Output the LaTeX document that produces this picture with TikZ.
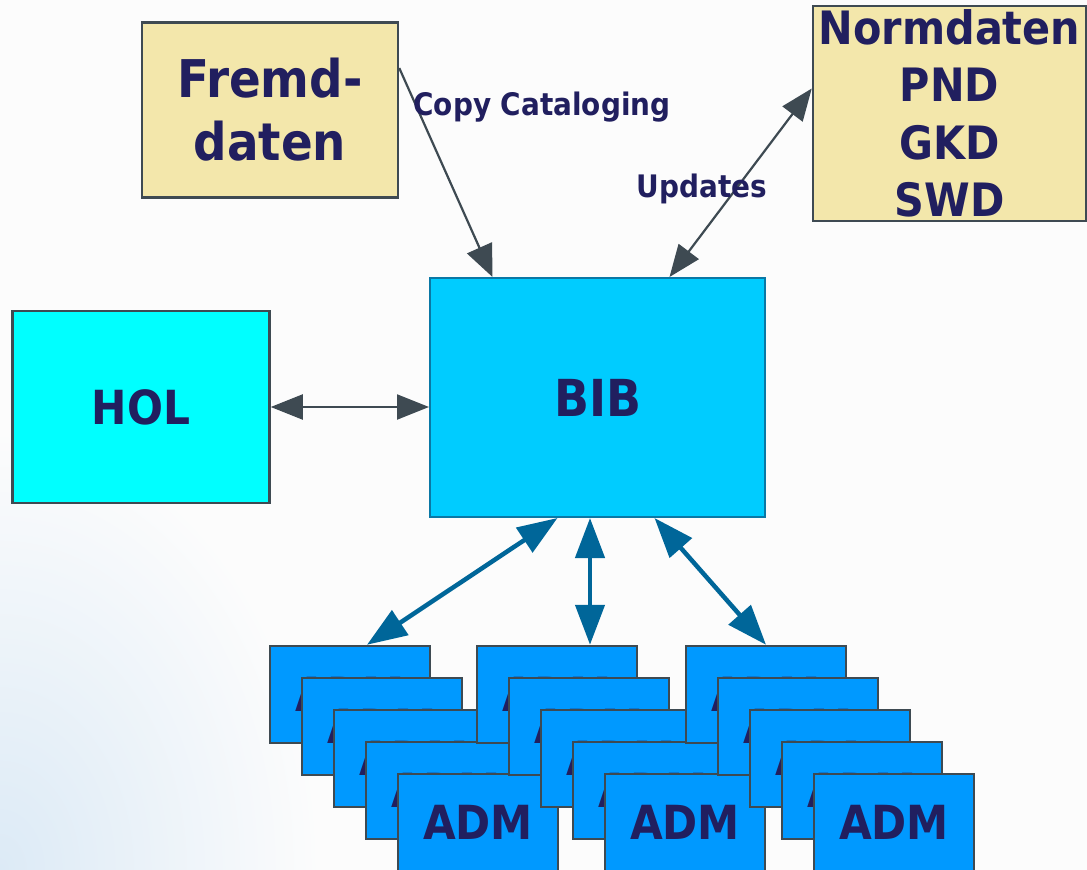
\documentclass[tikz,border=0pt]{standalone}
\usepackage{fontspec}
\setmainfont{DejaVu Sans Condensed}
\usetikzlibrary{arrows.meta}

\definecolor{navy}{RGB}{33,31,95}
\definecolor{slate}{RGB}{62,74,82}
\definecolor{sand}{RGB}{243,231,171}
\definecolor{holcyan}{RGB}{0,255,255}
\definecolor{bibblue}{RGB}{0,204,255}
\definecolor{bibline}{RGB}{10,120,165}
\definecolor{admblue}{RGB}{0,153,255}
\definecolor{linkblue}{RGB}{0,102,153}
\definecolor{bgblue}{RGB}{220,234,246}
\definecolor{paper}{RGB}{252,252,252}

\begin{document}
\begin{tikzpicture}[x=1pt, y=-1pt,
  every node/.style={font=\bfseries, text=navy, inner sep=0pt, align=center},
  yellowbox/.style={draw=slate, line width=2.5pt, fill=sand},
  holbox/.style={draw=slate, line width=2.5pt, fill=holcyan, minimum width=257pt, minimum height=192pt},
  bibbox/.style={draw=bibline, line width=2pt, fill=bibblue, minimum width=335pt, minimum height=239pt},
  admbox/.style={draw=slate, line width=2.5pt, fill=admblue, minimum width=160pt, minimum height=97pt,
    font=\bfseries\fontsize{47}{50}\selectfont},
  linklabel/.style={font=\bfseries\fontsize{31}{34}\selectfont, anchor=base},
  dlink/.style={draw=slate, line width=2.2pt},
  darrow/.style={dlink, {Triangle[length=32pt, width=25pt]}-{Triangle[length=32pt, width=25pt]}},
  barrow/.style={draw=linkblue, line width=4.5pt, {Triangle[length=40pt, width=29pt]}-{Triangle[length=40pt, width=29pt]}}]

  % Page and background
  \fill[paper] (0,0) rectangle (1087,870);
  \useasboundingbox (0,0) rectangle (1087,870);
  \begin{scope}
    \clip (0,0) rectangle (1087,870);
    \shade[inner color=bgblue, outer color=paper] (0,870) ellipse [x radius=320pt, y radius=440pt];
  \end{scope}

  % Boxes
  \node[yellowbox, minimum width=256pt, minimum height=175pt, font=\bfseries\fontsize{52}{63}\selectfont]
    (fremd) at (270,110) {Fremd-\\daten};
  \node[yellowbox, minimum width=273pt, minimum height=215pt, font=\bfseries\fontsize{46}{57.5}\selectfont]
    (norm) at (949.5,113.5) {Normdaten\\PND\\GKD\\SWD};
  \node[holbox, font=\bfseries\fontsize{47}{50}\selectfont] (hol) at (141,407) {HOL};
  \node[bibbox, font=\bfseries\fontsize{51}{50}\selectfont] (BIB) at (597.5,397.5) {BIB};

  % ADM stacks
  \foreach \s/\x in {1/350, 2/557, 3/766} {
    \foreach \k in {0,...,4} {
      \node[admbox] (adm\s\k) at (\x+32*\k, 694.5+32*\k) {ADM};
    }
  }

  % Links
  \draw[dlink, -{Triangle[length=32pt, width=27pt]}] ([yshift=42pt]fremd.east) -- ([xshift=-105pt]BIB.north);
  \draw[darrow] ([yshift=25pt]norm.west) -- ([xshift=72pt]BIB.north);
  \draw[darrow] (hol.east) -- (BIB.west |- hol.east);

  \draw[barrow] ([xshift=-40pt]BIB.south) -- ([xshift=17pt]adm10.north);
  \draw[barrow] ([xshift=-7.5pt]BIB.south) -- ([xshift=33pt]adm20.north);
  \draw[barrow] ([xshift=57pt]BIB.south) -- (adm30.north);

  % Labels
  \node[linklabel] (copy) at (542,115) {Copy Cataloging};
  \node[linklabel] (upd) at (702,197) {Updates};
\end{tikzpicture}
\end{document}
